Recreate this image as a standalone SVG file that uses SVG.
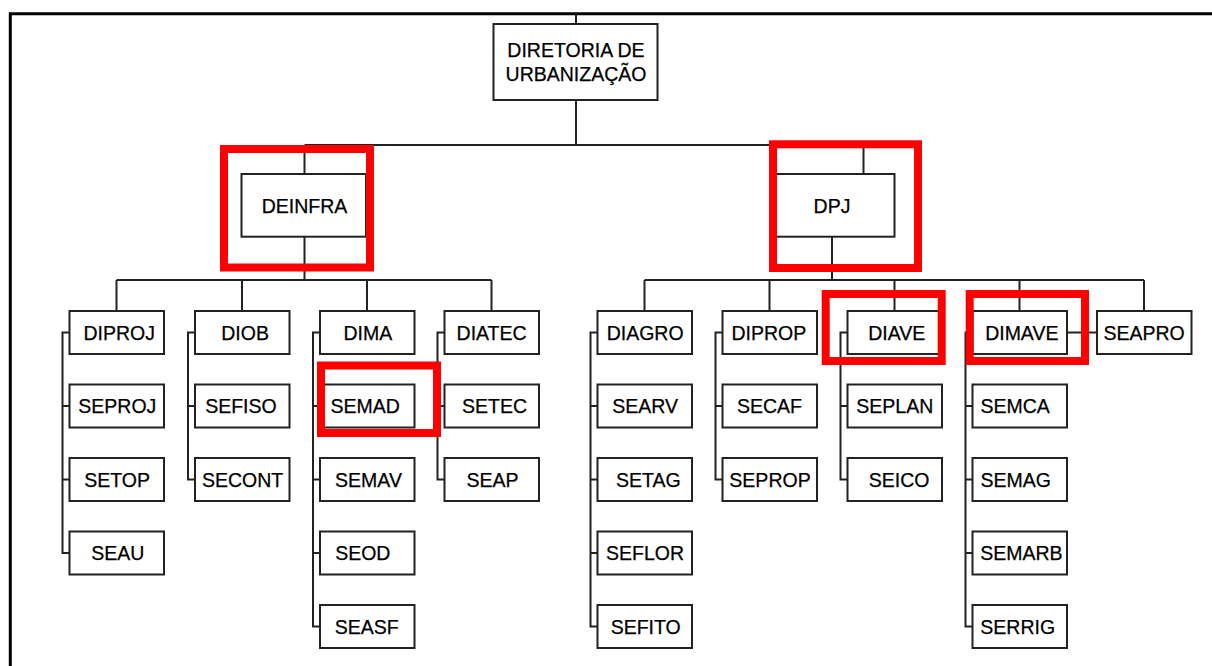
<svg xmlns="http://www.w3.org/2000/svg" width="1212" height="666" viewBox="0 0 1212 666">
<style>
.bx{fill:#fff;stroke:#222;stroke-width:2}
.ln{fill:none;stroke:#222;stroke-width:2}
.t{font-family:"Liberation Sans",Arial,sans-serif;font-size:19.5px;fill:#000;stroke:#000;stroke-width:0.25;text-anchor:middle}
.hl{fill:none;stroke:#ff0000;stroke-width:8}
</style>
<rect width="1212" height="666" fill="#fff"/>
<path d="M10.3,666 V13.7 H1212" fill="none" stroke="#000" stroke-width="3"/>
<g id="connectors" class="ln">
<path d="M576,13.7 V24"/>
<path d="M576,100 V145 M304.5,145 H863.5 M304.5,145 V174 M863.5,145 V174"/>
<path d="M304.5,236.7 V280 M116.5,280 H491.5 M116.5,280 V311 M242,280 V311 M367,280 V311 M491.5,280 V311"/>
<path d="M832,236.7 V280 M644.5,280 H1144 M644.5,280 V311 M769.5,280 V311 M894.5,280 V311 M1019.5,280 V311 M1144,280 V311"/>
<path d="M69.5,332.5 H62.5 V553 H69.5 M62.5,406 H69.5 M62.5,479.5 H69.5"/>
<path d="M195,332.5 H188 V479.5 H195 M188,406 H195"/>
<path d="M320,332.5 H313 V626.5 H320 M313,406 H320 M313,479.5 H320 M313,553 H320"/>
<path d="M444.5,332.5 H437.5 V479.5 H444.5 M437.5,406 H444.5"/>
<path d="M597.5,332.5 H590.5 V626.5 H597.5 M590.5,406 H597.5 M590.5,479.5 H597.5 M590.5,553 H597.5"/>
<path d="M722.5,332.5 H715.5 V479.5 H722.5 M715.5,406 H722.5"/>
<path d="M847.5,332.5 H840.5 V479.5 H847.5 M840.5,406 H847.5"/>
<path d="M972.5,332.5 H965.5 V626.5 H972.5 M965.5,406 H972.5 M965.5,479.5 H972.5 M965.5,553 H972.5"/>
<path d="M1066.5,332.5 H1097"/>
</g>
<g id="root"><rect class="bx" x="493.5" y="24" width="164" height="76"/><text class="t" x="576" y="56.5">DIRETORIA DE</text><text class="t" x="576" y="80.5">URBANIZAÇÃO</text></g>
<g id="deinfra"><rect class="bx" x="241.5" y="174" width="124.5" height="62.7"/><text class="t" x="304.5" y="212.5">DEINFRA</text></g>
<g id="dpj"><rect class="bx" x="770" y="174" width="124.5" height="62.7"/><text class="t" x="832" y="212.5">DPJ</text></g>
<g id="diproj"><rect class="bx" x="69.5" y="311" width="94.5" height="43"/><text class="t" x="119.2" y="339.5">DIPROJ</text></g>
<g id="seproj"><rect class="bx" x="69.5" y="384.5" width="94.5" height="43"/><text class="t" x="117.3" y="413">SEPROJ</text></g>
<g id="setop"><rect class="bx" x="69.5" y="458" width="94.5" height="43"/><text class="t" x="117.1" y="486.5">SETOP</text></g>
<g id="seau"><rect class="bx" x="69.5" y="531.5" width="94.5" height="43"/><text class="t" x="117.7" y="560">SEAU</text></g>
<g id="diob"><rect class="bx" x="195" y="311" width="94.5" height="43"/><text class="t" x="245.1" y="339.5">DIOB</text></g>
<g id="sefiso"><rect class="bx" x="195" y="384.5" width="94.5" height="43"/><text class="t" x="240.9" y="413">SEFISO</text></g>
<g id="secont"><rect class="bx" x="195" y="458" width="94.5" height="43"/><text class="t" x="242.6" y="486.5">SECONT</text></g>
<g id="dima"><rect class="bx" x="320" y="311" width="94.5" height="43"/><text class="t" x="367.8" y="339.5">DIMA</text></g>
<g id="semad"><rect class="bx" x="320" y="384.5" width="94.5" height="43"/><text class="t" x="365.3" y="413">SEMAD</text></g>
<g id="semav"><rect class="bx" x="320" y="458" width="94.5" height="43"/><text class="t" x="368.5" y="486.5">SEMAV</text></g>
<g id="seod"><rect class="bx" x="320" y="531.5" width="94.5" height="43"/><text class="t" x="362.8" y="560">SEOD</text></g>
<g id="seasf"><rect class="bx" x="320" y="605" width="94.5" height="43"/><text class="t" x="366.6" y="633.5">SEASF</text></g>
<g id="diatec"><rect class="bx" x="444.5" y="311" width="94.5" height="43"/><text class="t" x="491.6" y="339.5">DIATEC</text></g>
<g id="setec"><rect class="bx" x="444.5" y="384.5" width="94.5" height="43"/><text class="t" x="494.5" y="413">SETEC</text></g>
<g id="seap"><rect class="bx" x="444.5" y="458" width="94.5" height="43"/><text class="t" x="492.5" y="486.5">SEAP</text></g>
<g id="diagro"><rect class="bx" x="597.5" y="311" width="94.5" height="43"/><text class="t" x="645.1" y="339.5">DIAGRO</text></g>
<g id="searv"><rect class="bx" x="597.5" y="384.5" width="94.5" height="43"/><text class="t" x="645.1" y="413">SEARV</text></g>
<g id="setag"><rect class="bx" x="597.5" y="458" width="94.5" height="43"/><text class="t" x="648.3" y="486.5">SETAG</text></g>
<g id="seflor"><rect class="bx" x="597.5" y="531.5" width="94.5" height="43"/><text class="t" x="645.1" y="560">SEFLOR</text></g>
<g id="sefito"><rect class="bx" x="597.5" y="605" width="94.5" height="43"/><text class="t" x="645.7" y="633.5">SEFITO</text></g>
<g id="diprop"><rect class="bx" x="722.5" y="311" width="94.5" height="43"/><text class="t" x="768.8" y="339.5">DIPROP</text></g>
<g id="secaf"><rect class="bx" x="722.5" y="384.5" width="94.5" height="43"/><text class="t" x="769.4" y="413">SECAF</text></g>
<g id="seprop"><rect class="bx" x="722.5" y="458" width="94.5" height="43"/><text class="t" x="770" y="486.5">SEPROP</text></g>
<g id="diave"><rect class="bx" x="847.5" y="311" width="94.5" height="43"/><text class="t" x="896.8" y="339.5">DIAVE</text></g>
<g id="seplan"><rect class="bx" x="847.5" y="384.5" width="94.5" height="43"/><text class="t" x="894.8" y="413">SEPLAN</text></g>
<g id="seico"><rect class="bx" x="847.5" y="458" width="94.5" height="43"/><text class="t" x="899.2" y="486.5">SEICO</text></g>
<g id="dimave"><rect class="bx" x="972.5" y="311" width="94.5" height="43"/><text class="t" x="1021.8" y="339.5">DIMAVE</text></g>
<g id="semca"><rect class="bx" x="972.5" y="384.5" width="94.5" height="43"/><text class="t" x="1015.1" y="413">SEMCA</text></g>
<g id="semag"><rect class="bx" x="972.5" y="458" width="94.5" height="43"/><text class="t" x="1015.7" y="486.5">SEMAG</text></g>
<g id="semarb"><rect class="bx" x="972.5" y="531.5" width="94.5" height="43"/><text class="t" x="1021.4" y="560">SEMARB</text></g>
<g id="serrig"><rect class="bx" x="972.5" y="605" width="94.5" height="43"/><text class="t" x="1017.7" y="633.5">SERRIG</text></g>
<g id="seapro"><rect class="bx" x="1097" y="311" width="94.5" height="43"/><text class="t" x="1144.1" y="339.5">SEAPRO</text></g>
<g id="highlights">
<rect class="hl" x="224" y="149" width="146" height="118.5"/>
<rect class="hl" x="773" y="144.3" width="145" height="123.7"/>
<rect class="hl" x="321" y="365.5" width="116" height="67.5"/>
<rect class="hl" x="825.7" y="294" width="116" height="67"/>
<rect class="hl" x="969.7" y="294" width="115.3" height="67"/>
</g>
</svg>
